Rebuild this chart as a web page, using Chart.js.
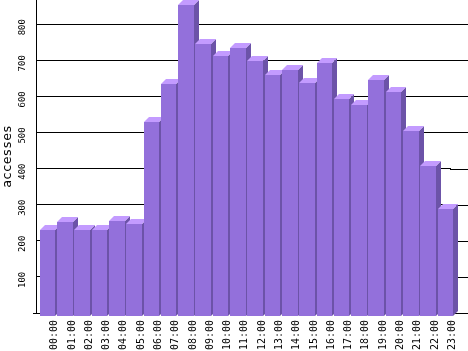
<!DOCTYPE html>
<html>
<head>
<meta charset="utf-8">
<script src="https://cdn.jsdelivr.net/npm/chart.js@4/dist/chart.umd.min.js"></script>
<style>
  html, body { margin: 0; padding: 0; background: #fff; }
</style>
</head>
<body>
<canvas id="chart" width="468" height="351"></canvas>
<script>
const hours = ["00:00", "01:00", "02:00", "03:00", "04:00", "05:00", "06:00", "07:00",
               "08:00", "09:00", "10:00", "11:00", "12:00", "13:00", "14:00", "15:00",
               "16:00", "17:00", "18:00", "19:00", "20:00", "21:00", "22:00", "23:00"];
const accesses = [238, 260, 238, 238, 263, 256, 537, 643, 862, 754, 721, 742,
                  706, 668, 681, 646, 702, 602, 585, 654, 621, 512, 416, 296];
const yTicks = [0, 100, 200, 300, 400, 500, 600, 700, 800];

// colours of the three visible faces
const FRONT = "#9370db";
const TOP = "#c39bff";
const SIDE = "#6c53a8";
const DEPTH = 5;   // 3d depth in px
const SHIFT = 3;   // front face sits a bit right/down of the bar box

const bars3d = {
  id: "bars3d",
  beforeDatasetsDraw(chart) {
    // grid lines run on to the right edge of the picture
    const ctx = chart.ctx;
    const y = chart.scales.y;
    ctx.save();
    ctx.strokeStyle = "#000";
    ctx.lineWidth = 1;
    ctx.beginPath();
    y.ticks.forEach(t => {
      const py = Math.round(y.getPixelForValue(t.value)) + 0.5;
      ctx.moveTo(chart.chartArea.right - 1, py);
      ctx.lineTo(chart.width, py);
    });
    // little tick left of the axis at zero
    const p0 = Math.round(y.getPixelForValue(0)) + 0.5;
    ctx.moveTo(chart.chartArea.left - 3, p0);
    ctx.lineTo(chart.chartArea.left, p0);
    ctx.stroke();
    ctx.restore();
  },
  beforeDatasetDraw(chart, args) {
    const ctx = chart.ctx;
    ctx.save();
    args.meta.data.forEach(bar => {
      const left = Math.round(bar.x - bar.width / 2 + SHIFT);
      const right = Math.round(bar.x + bar.width / 2 + SHIFT);
      const top = Math.round(bar.y + SHIFT);
      const bottom = Math.round(bar.base + SHIFT);

      ctx.fillStyle = FRONT;
      ctx.fillRect(left, top, right - left, bottom - top);

      ctx.fillStyle = SIDE;
      ctx.beginPath();
      ctx.moveTo(right, top);
      ctx.lineTo(right + DEPTH, top - DEPTH);
      ctx.lineTo(right + DEPTH, bottom - DEPTH);
      ctx.lineTo(right, bottom);
      ctx.closePath();
      ctx.fill();

      ctx.fillStyle = TOP;
      ctx.beginPath();
      ctx.moveTo(left, top);
      ctx.lineTo(left + DEPTH, top - DEPTH);
      ctx.lineTo(right + DEPTH, top - DEPTH);
      ctx.lineTo(right, top);
      ctx.closePath();
      ctx.fill();
    });
    ctx.restore();
    return false;
  }
};

new Chart(document.getElementById("chart"), {
  type: "bar",
  data: {
    labels: hours,
    datasets: [{
      label: "accesses",
      data: accesses,
      backgroundColor: FRONT,
      categoryPercentage: 1,
      barPercentage: 0.9
    }]
  },
  options: {
    responsive: false,
    animation: false,
    devicePixelRatio: 1,
    layout: { padding: { left: 0, right: 17, top: 0, bottom: 0 } },
    plugins: {
      legend: { display: false },
      tooltip: { enabled: false }
    },
    scales: {
      x: {
        grid: { display: false, drawTicks: false },
        border: { display: false },
        ticks: {
          autoSkip: false,
          minRotation: 90,
          maxRotation: 90,
          padding: 7,
          labelOffset: 10,
          color: "#000",
          font: { family: "DejaVu Sans Mono", size: 10 }
        },
        afterFit(scale) {
          scale.height = 38;
          scale.paddingLeft = 0;
          scale.paddingRight = 0;
        }
      },
      y: {
        min: 0,
        max: 867,
        grid: { color: "#000", lineWidth: 1, drawTicks: false },
        border: { display: true, color: "#000", width: 1 },
        afterBuildTicks(scale) {
          scale.ticks = yTicks.map(v => ({ value: v }));
        },
        ticks: {
          minRotation: 90,
          maxRotation: 90,
          crossAlign: "center",
          padding: 5,
          labelOffset: 3,
          color: "#000",
          font: { family: "DejaVu Sans Mono", size: 9 },
          callback: v => (v === 0 ? "" : v)
        },
        title: {
          display: true,
          text: "accesses",
          color: "#000",
          padding: 0,
          font: { family: "DejaVu Sans Mono", size: 13 }
        },
        afterFit(scale) {
          scale.width = 36;
          scale.paddingTop = 0;
          scale.paddingBottom = 0;
        }
      }
    }
  },
  plugins: [bars3d]
});
</script>
</body>
</html>
